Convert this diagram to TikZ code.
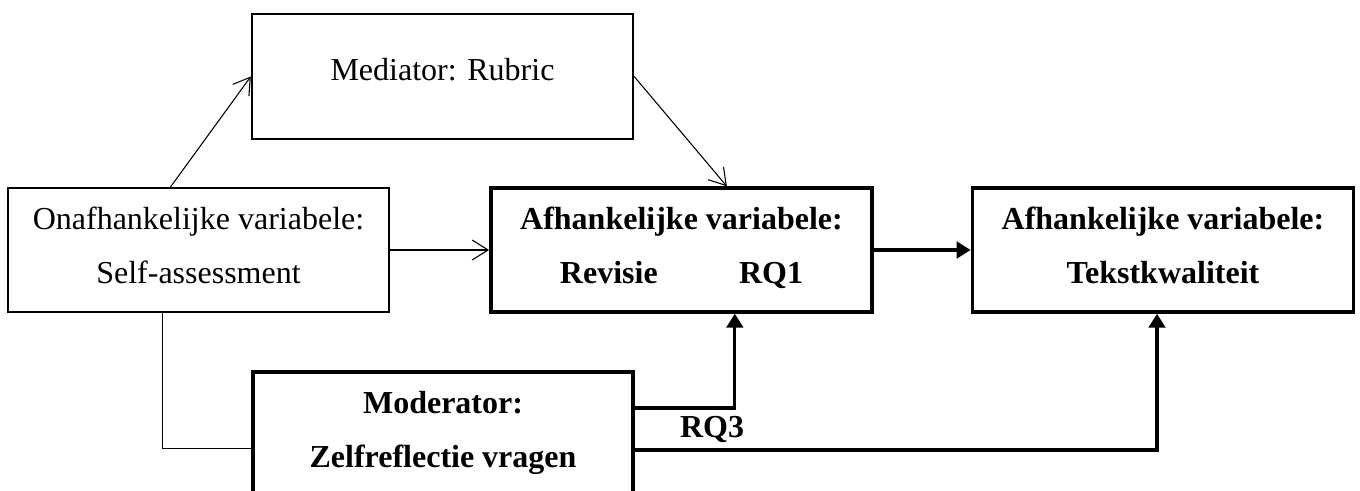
\documentclass[tikz,border=0pt]{standalone}
\usepackage{fontspec}
\setmainfont{Liberation Serif}
\usepackage{tikz}
\usetikzlibrary{calc,positioning,arrows.meta}

\tikzset{
  thinbox/.style={draw,line width=1.5pt,inner sep=0pt,align=center,text depth=7pt,
    minimum width=286pt,minimum height=93pt,font=\fontsize{24}{41}\selectfont},
  thickbox/.style={thinbox,line width=2.6pt,font=\fontsize{24}{41}\selectfont\bfseries},
  thinarrow/.style={line width=0.8pt,-{Straight Barb[length=12pt,width=15pt,line width=0.8pt]}},
  thickarrow/.style={line width=2.3pt,-{Triangle[length=10.5pt,width=12.5pt]}},
}

\begin{document}
\begin{tikzpicture}[x=0.75pt,y=-0.75pt]
  \clip (0,0) rectangle (1360,491);
  % boxes
  \node[thinbox] (indep) at (198.5,250)
    {Onafhankelijke variabele:\\Self-assessment};
  \node[thinbox,text depth=10pt,minimum height=94pt] (mediator) at (442.5,76.5)
    {Mediator: Rubric};
  \node[thickbox] (revisie) at (681.5,250)
    {Afhankelijke variabele:\\Revisie\hspace{61pt}RQ1};
  \node[thickbox] (kwaliteit) at (1163,250)
    {Afhankelijke variabele:\\Tekstkwaliteit};
  \node[thickbox,minimum width=285pt] (moderator) at (443,434)
    {Moderator:\\Zelfreflectie vragen};
  \node[font=\fontsize{24}{28}\selectfont\bfseries,inner sep=0pt] (rq3) at (712,429) {RQ3};

  % connectors
  \draw[thinarrow] ([xshift=-21pt]indep.north) -- (mediator.west);
  \draw[thinarrow] (mediator.east) -- ([xshift=34pt]revisie.north);
  \draw[thinarrow] (indep.east) -- (revisie.west);
  \draw[thickarrow] (revisie.east) -- (kwaliteit.west);
  \draw[line width=0.8pt] ([xshift=-27pt]indep.south) |- ([yshift=-11pt]moderator.west);
  \draw[thickarrow] ([yshift=19.5pt]moderator.east) -| ([xshift=40pt]revisie.south);
  \draw[thickarrow] ([yshift=-12pt]moderator.east) -| ([xshift=-4.5pt]kwaliteit.south);
\end{tikzpicture}
\end{document}
